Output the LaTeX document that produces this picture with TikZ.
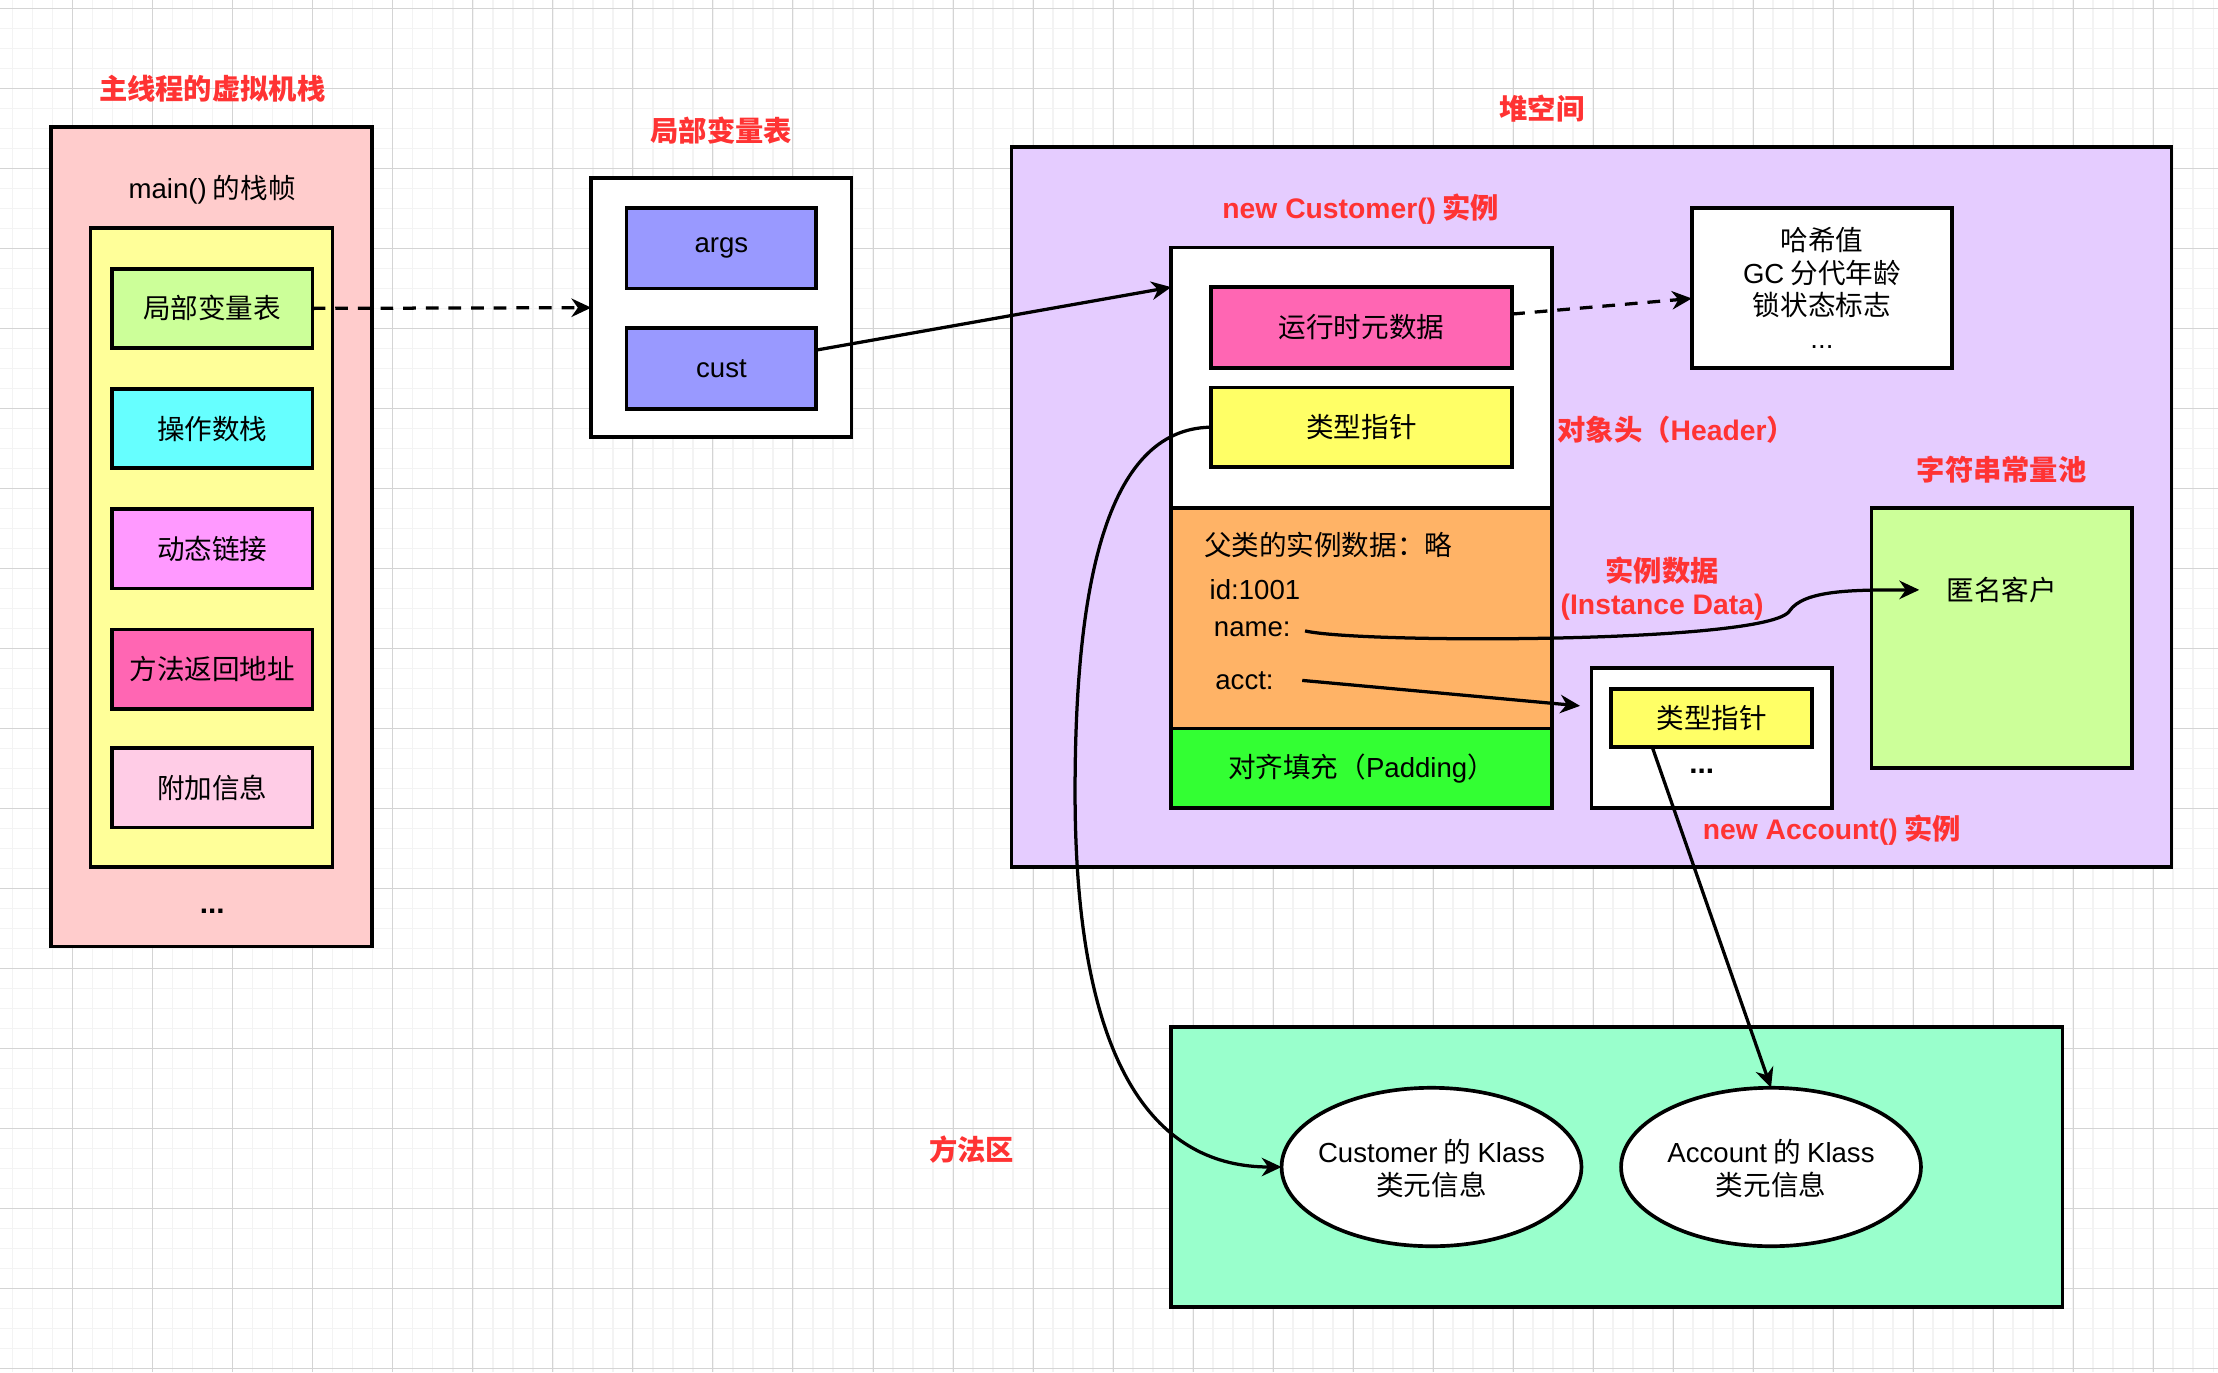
\documentclass[tikz,border=0pt]{standalone}
\usepackage{fontspec}
\setmainfont{Noto Sans CJK SC}
\newfontfamily\latfont{Liberation Sans}
\newcommand{\latn}[1]{{\latfont #1}}
\usetikzlibrary{arrows.meta,calc,shapes.geometric}
\definecolor{myred}{HTML}{FF3333}
\definecolor{cStack}{HTML}{FFCCCC}
\definecolor{cFrame}{HTML}{FFFF99}
\definecolor{cLvt}{HTML}{CCFF99}
\definecolor{cOps}{HTML}{66FFFF}
\definecolor{cDyn}{HTML}{FF99FF}
\definecolor{cRet}{HTML}{FF66B3}
\definecolor{cAdd}{HTML}{FFCCE6}
\definecolor{cVar}{HTML}{9999FF}
\definecolor{cHeap}{HTML}{E5CCFF}
\definecolor{cPtr}{HTML}{FFFF66}
\definecolor{cData}{HTML}{FFB366}
\definecolor{cPad}{HTML}{33FF33}
\definecolor{cMeth}{HTML}{99FFCC}
\definecolor{gMinor}{HTML}{F3F3F3}
\definecolor{gMajor}{HTML}{D4D4D4}
\begin{document}
\begin{tikzpicture}[x=1pt,y=-1pt,
  bx/.style={draw, line width=2.6pt, inner sep=0pt, outer sep=0pt, font=\fontsize{19.5}{23}\selectfont, align=center},
  txt/.style={inner sep=0pt, font=\fontsize{19.5}{23}\selectfont, align=center},
  redlbl/.style={inner sep=0pt, text=myred, font=\bfseries\fontsize{20}{23}\selectfont, align=center},
  arr/.style={line width=2.3pt, -{Stealth[length=14pt,width=13pt,inset=4.5pt]}},
  dsh/.style={arr, dash pattern=on 9pt off 7pt},
  dots/.style={inner sep=0pt, font=\bfseries\fontsize{21}{23}\selectfont}
]
\useasboundingbox (0,0) rectangle (1568,970);
\fill[white] (0,0) rectangle (1568,970);
% grid
\foreach \i in {0,...,112} \draw[gMinor, line width=1pt] ({-5.17+14.142*\i},0) -- ({-5.17+14.142*\i},970);
\foreach \i in {0,...,69} \draw[gMinor, line width=1pt] (0,{5.9+14.142*\i}) -- (1568,{5.9+14.142*\i});
\foreach \i in {0,...,28} \draw[gMajor, line width=0.6pt] ({-5.17+56.57*\i},0) -- ({-5.17+56.57*\i},970);
\foreach \i in {0,...,17} \draw[gMajor, line width=0.6pt] (0,{5.9+56.57*\i}) -- (1568,{5.9+56.57*\i});

% ---- thread stack
\node[redlbl] (tStack) at (150,63) {主线程的虚拟机栈};
\node[bx, fill=cStack, minimum width=227pt, minimum height=579pt] (stack) at (149.5,379.5) {};
\node[txt] (tFrame) at (150,134) {\latn{main()} 的栈帧};
\node[bx, fill=cFrame, minimum width=171pt, minimum height=452pt] (frame) at (149.5,387) {};
\node[bx, fill=cLvt, minimum width=142pt, minimum height=56pt] (lvt) at (150,218) {局部变量表};
\node[bx, fill=cOps, minimum width=142pt, minimum height=56pt] (ops) at (150,303) {操作数栈};
\node[bx, fill=cDyn, minimum width=142pt, minimum height=56pt] (dyn) at (150,388) {动态链接};
\node[bx, fill=cRet, minimum width=142pt, minimum height=56pt] (ret) at (150,473) {方法返回地址};
\node[bx, fill=cAdd, minimum width=142pt, minimum height=56pt] (addi) at (150,557) {附加信息};
\node[dots] (sdots) at (150,644) {\latn{...}};

% ---- local variable table
\node[redlbl] (tLvt) at (510,92) {局部变量表};
\node[bx, fill=white, minimum width=184pt, minimum height=183pt] (lvtbox) at (510,217.5) {};
\node[bx, fill=cVar, minimum width=134pt, minimum height=57pt] (args) at (510,175.5) {\latn{args}};
\node[bx, fill=cVar, minimum width=134pt, minimum height=57pt] (cust) at (510,260.5) {\latn{cust}};

% ---- heap
\node[redlbl] (tHeap) at (1090,77) {堆空间};
\node[bx, fill=cHeap, minimum width=820pt, minimum height=509pt] (heap) at (1125,358.5) {};
\node[redlbl] (tCust) at (962,148) {\latn{new Customer()} 实例};
\node[bx, fill=white, minimum width=269pt, minimum height=184pt] (custhdr) at (962.5,267) {};
\node[bx, fill=cRet, minimum width=213pt, minimum height=57pt] (meta) at (962.5,231.5) {运行时元数据};
\node[bx, fill=cPtr, minimum width=213pt, minimum height=56pt] (ptr) at (962.5,302) {类型指针};
\node[bx, fill=cData, minimum width=269pt, minimum height=156pt] (data) at (962.5,437) {};
\node[bx, fill=cPad, minimum width=269pt, minimum height=56pt] (pad) at (962.5,543) {对齐填充（\latn{Padding}）};
\node[txt, anchor=west] (super) at (851,385) {父类的实例数据：略};
\node[txt, anchor=west] (idv) at (855,417) {\latn{id:1001}};
\node[txt, anchor=west] (nm) at (858,445) {\latn{name:}};
\node[txt, anchor=west] (ac) at (859,481) {\latn{acct:}};

\node[bx, fill=white, minimum width=184pt, minimum height=113pt] (hdrinfo) at (1288,203.5) {哈希值\\\latn{GC} 分代年龄\\锁状态标志\\\latn{...}};
\node[redlbl] (tHdr) at (1185,304) {对象头（\latn{Header}）};
\node[redlbl] (tPool) at (1415,332) {字符串常量池};
\node[bx, fill=cLvt, minimum width=184pt, minimum height=184pt] (pool) at (1415,451) {};
\node[txt] (anon) at (1415,417) {匿名客户};
\node[redlbl] (tInst) at (1175,416) {实例数据\\\latn{(Instance Data)}};

\node[bx, fill=white, minimum width=170pt, minimum height=99pt] (acctbox) at (1210,521.5) {};
\node[bx, fill=cPtr, minimum width=142pt, minimum height=41pt] (aptr) at (1210,507.5) {类型指针};
\node[dots] (adots) at (1203,545) {\latn{...}};
\node[redlbl] (tAcct) at (1295,587) {\latn{new Account()} 实例};

% ---- method area
\node[redlbl] (tMeth) at (687,813) {方法区};
\node[bx, fill=cMeth, minimum width=630pt, minimum height=198pt] (meth) at (1143,825) {};
\node[bx, ellipse, fill=white, minimum width=212pt, minimum height=112pt] (ck) at (1012,825) {};
\node[txt] (ckt) at (1012,826) {\latn{Customer} 的 \latn{Klass}\\类元信息};
\node[bx, ellipse, fill=white, minimum width=212pt, minimum height=112pt] (ak) at (1252,825) {};
\node[txt] (akt) at (1252,826) {\latn{Account} 的 \latn{Klass}\\类元信息};

% ---- connectors
\draw[dsh] (lvt.east) -- (lvtbox.west);
\draw[arr] ([yshift=13pt]cust.east) -- (custhdr.west |- meta.north);
\draw[dsh] ([yshift=9.5pt]meta.east) -- ([yshift=-7.5pt]hdrinfo.west);
\draw[arr] ([xshift=10pt,yshift=-1pt]nm.east) .. controls (960,455) and (1250,455) .. (1265,432)
   .. controls (1275,417) and (1310,417) .. ([xshift=-19pt]anon.west);
\draw[arr] ([xshift=20pt]ac.east) -- ([xshift=-8pt,yshift=22.5pt]acctbox.west);
\draw[arr] (ptr.west) .. controls (780,303) and (760,420) .. (760,560)
   .. controls (760,760) and (820,825) .. (ck.west);
\draw[arr] ([xshift=-42pt]aptr.south) -- (ak.north);
\end{tikzpicture}
\end{document}
